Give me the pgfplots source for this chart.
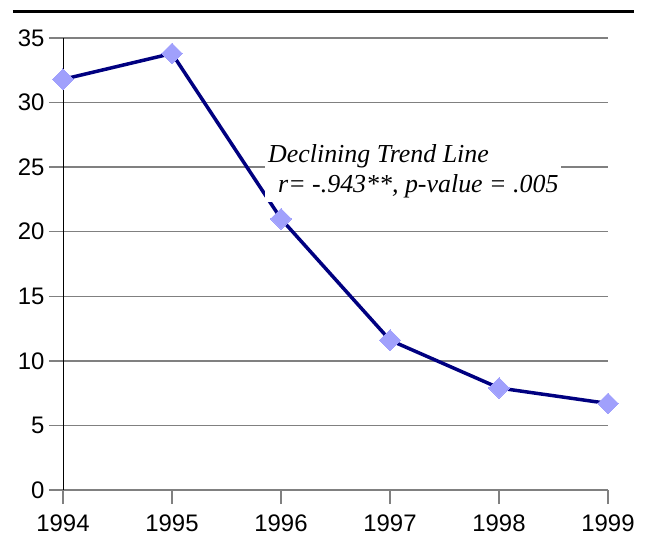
\documentclass[border=0pt]{standalone}
\usepackage{pgfplots}
\pgfplotsset{compat=1.18}
\usepackage{fontspec}
\setmainfont{Liberation Sans}
\newfontfamily\serifit{Liberation Serif}
\definecolor{navy}{HTML}{000080}
\definecolor{peri}{HTML}{A0A0FC}
\definecolor{gridgray}{HTML}{808080}
\begin{document}
\begin{tikzpicture}
\begin{axis}[
  at={(0,0)}, anchor=south west,
  scale only axis, width=545bp, height=452bp,
  xmin=0, xmax=5, ymin=0, ymax=35,
  axis lines=left, axis line style={-},
  x axis line style={gridgray, line width=1.3bp},
  y axis line style={black, line width=0.8bp},
  xtick={0,1,2,3,4,5}, xticklabels={1994,1995,1996,1997,1998,1999},
  ytick={0,5,10,15,20,25,30,35},
  ymajorgrids, grid style={gridgray, line width=1.3bp},
  tick align=outside, major tick length=14bp,
  tick style={gridgray, line width=1.3bp},
  ticklabel style={font=\fontsize{24}{24}\selectfont},
  xticklabel style={yshift=-7bp},
  yticklabel style={xshift=-1bp},
  /pgf/number format/assume math mode=true,
  clip=false,
]
\addplot[navy, line width=3.5bp, mark=square*, mark size=7.4bp,
  mark options={peri, fill=peri, rotate=45, solid, line width=0pt}]
  coordinates {(0,31.8) (1,33.8) (2,21.0) (3,11.6) (4,7.9) (5,6.7)};
\node[fill=white, anchor=north west, inner xsep=3bp, inner ysep=4bp, align=left,
  font=\serifit\itshape\fontsize{26}{30}\selectfont]
  at (axis cs:1.853,27.1) {Declining Trend Line\\\hspace*{10bp}r= -.943**, p-value = .005};
\end{axis}
\draw[line width=3bp] (-50bp,478bp) -- (571bp,478bp);
\pgfresetboundingbox
\path[use as bounding box] (-63bp,-52bp) rectangle (584bp,490bp);
\end{tikzpicture}
\end{document}
